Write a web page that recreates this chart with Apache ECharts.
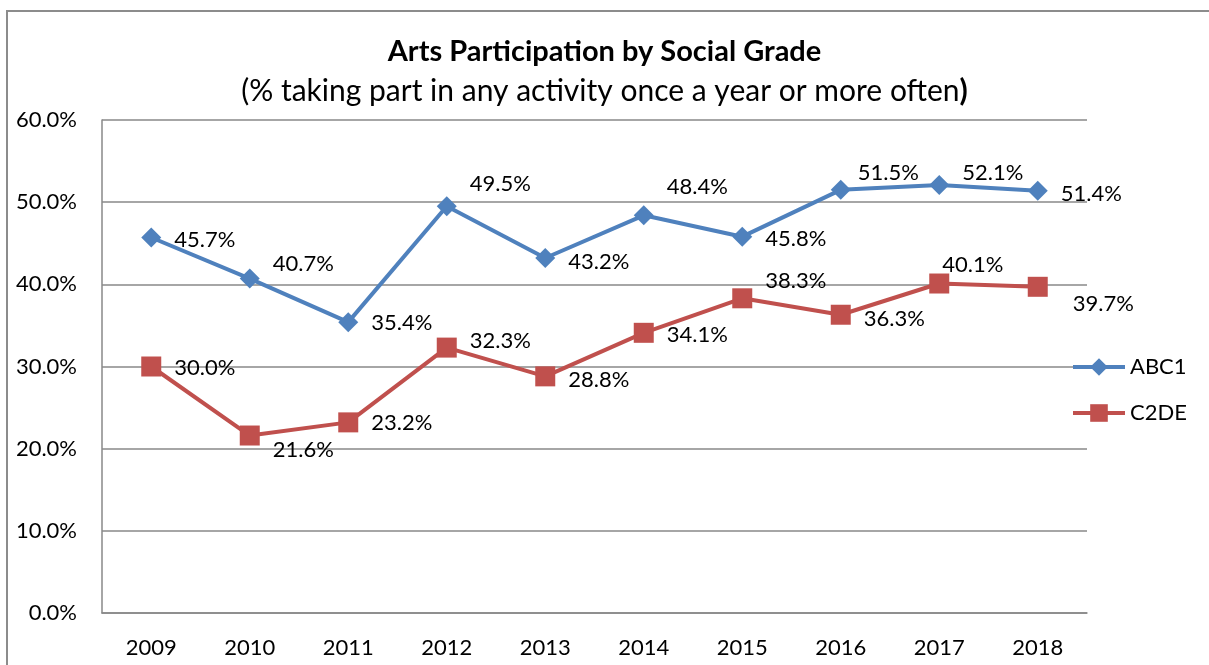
<!DOCTYPE html>
<html>
<head>
<meta charset="utf-8">
<script src="https://cdn.jsdelivr.net/npm/echarts@6/dist/echarts.min.js"></script>
<style>html,body{margin:0;padding:0;background:#fff}#c{width:1209px;height:665px}</style>
</head>
<body>
<div id="c"></div>
<script>
const years = ['2009','2010','2011','2012','2013','2014','2015','2016','2017','2018'];
const abc1 = [45.7, 40.7, 35.4, 49.5, 43.2, 48.4, 45.8, 51.5, 52.1, 51.4];
const c2de = [30.0, 21.6, 23.2, 32.3, 28.8, 34.1, 38.3, 36.3, 40.1, 39.7];
const yTicks = [0, 10, 20, 30, 40, 50, 60];
// label placement offsets (style only)
const abc1LabelOffsets = [[0,2],[0,-15],[0,1],[0,-22],[0,4],[0,-28],[0,2],[-6,-17],[0,-12],[0,3]];
const c2deLabelOffsets = [[0,1],[0,14],[0,1],[0,-7],[0,4],[0,2],[0,-17],[0,4],[-20,-19],[12,17]];

const FONT = 'Lato, "Open Sans", sans-serif';
function build(vals, offs){
  return vals.map((v,i)=>({value:v, label:{offset:offs[i]}}));
}
const chart = echarts.init(document.getElementById('c'));
chart.setOption({
  animation:false,
  backgroundColor:'#fff',
  textStyle:{fontFamily:FONT},
  graphic:[{type:'rect', shape:{x:7,y:11,width:1230,height:700}, style:{fill:'none', stroke:'#8c8c8c', lineWidth:2}, silent:true}],
  title:[
    {left:'center', top:32, text:'Arts Participation by Social Grade',
     textStyle:{fontFamily:FONT, fontSize:29, fontWeight:'bold', color:'#000'}},
    {left:'center', top:71,
     text:'{s|(% taking part in any activity once a year or more often}{b|)}',
     textStyle:{fontWeight:'normal', rich:{
       s:{fontFamily:FONT, fontSize:30, fontWeight:'normal', color:'#000'},
       b:{fontFamily:FONT, fontSize:30, fontWeight:'bold', color:'#000'}
     }}}
  ],
  legend:{
    orient:'vertical', left:1066, top:351, itemWidth:52, itemHeight:22, itemGap:24,
    textStyle:{fontFamily:FONT, fontSize:22, color:'#000'},
    lineStyle:{width:4},
    data:[
      {name:'ABC1', lineStyle:{width:4, color:'#4f81bd'}},
      {name:'C2DE', lineStyle:{width:4, color:'#c0504d'}}
    ]
  },
  grid:{left:102, right:122, top:120, bottom:52, containLabel:false},
  xAxis:{
    type:'category', data:years, boundaryGap:true,
    axisLine:{lineStyle:{color:'#888', width:1.5}},
    axisTick:{show:false},
    axisLabel:{fontFamily:FONT, fontSize:22, color:'#000', margin:24}
  },
  yAxis:{
    type:'value', min:0, max:60, interval:10,
    axisLine:{show:true, lineStyle:{color:'#888', width:1.5}},
    axisTick:{show:false},
    splitLine:{lineStyle:{color:'#888', width:1.5}},
    axisLabel:{fontFamily:FONT, fontSize:22, color:'#000', margin:25,
      formatter:v=> yTicks.includes(v) ? v.toFixed(1)+'%' : ''}
  },
  series:[
    {name:'ABC1', type:'line', data:build(abc1, abc1LabelOffsets),
     symbol:'diamond', symbolSize:20, color:'#4f81bd',
     lineStyle:{width:4, color:'#4f81bd'}, itemStyle:{color:'#4f81bd'},
     label:{show:true, position:'right', distance:13, fontFamily:FONT, fontSize:22, color:'#000',
       formatter:p=>p.value.toFixed(1)+'%'}},
    {name:'C2DE', type:'line', data:build(c2de, c2deLabelOffsets),
     symbol:'rect', symbolSize:20, color:'#c0504d',
     lineStyle:{width:4, color:'#c0504d'}, itemStyle:{color:'#c0504d'},
     label:{show:true, position:'right', distance:13, fontFamily:FONT, fontSize:22, color:'#000',
       formatter:p=>p.value.toFixed(1)+'%'}}
  ]
});
</script>
</body>
</html>
